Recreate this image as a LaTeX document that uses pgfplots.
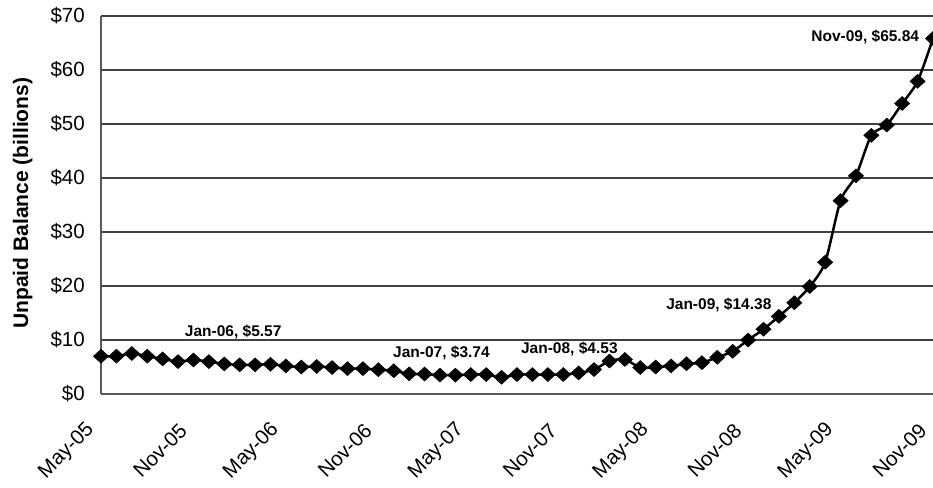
\documentclass[border=0pt]{standalone}
\usepackage{pgfplots}
\pgfplotsset{compat=1.18}
\usepackage{fontspec}
\setmainfont{Liberation Sans}

% Monthly unpaid balance, May 2005 (month 0) to Nov 2009 (month 54), $ billions

\begin{document}
\begin{tikzpicture}
\begin{axis}[
  at={(0,0)}, anchor=south west,
  scale only axis,
  width=832pt, height=378pt,
  xmin=0, xmax=54,
  ymin=0, ymax=70,
  clip=false,
  axis lines=left,
  axis line style={-, draw=black!65, line width=1.6pt},
  xtick={0,6,...,54},
  xticklabels={May-05,Nov-05,May-06,Nov-06,May-07,Nov-07,May-08,Nov-08,May-09,Nov-09},
  ytick={0,10,...,70},
  yticklabels={\$0,\$10,\$20,\$30,\$40,\$50,\$60,\$70},
  major tick length=0pt,
  ymajorgrids,
  major grid style={draw=black!75, line width=1.1pt},
  tick label style={font=\fontsize{20.5}{20.5}\selectfont},
  x tick label style={inner sep=0pt, xshift=-10pt, yshift=-33pt, rotate=45, anchor=east},
  y tick label style={inner sep=0pt, anchor=east, xshift=-16pt},
  ylabel={Unpaid Balance (billions)},
  y label style={at={(axis description cs:-0.094,0.505)}, anchor=center,
                 font=\fontsize{21}{21}\selectfont\bfseries},
  every axis plot/.append style={line width=2.5pt},
]
\addplot[black, smooth, tension=0.45, mark=diamond*,
         mark size=7pt, mark options={solid, xscale=1.45, line width=0.5pt, fill=black}]
  coordinates {
  (0,7.0) (1,7.0) (2,7.5) (3,7.0) (4,6.5) (5,6.0) (6,6.3) (7,6.0)
  (8,5.57) (9,5.4) (10,5.4) (11,5.5) (12,5.2) (13,5.0) (14,5.1) (15,4.9)
  (16,4.7) (17,4.7) (18,4.5) (19,4.3) (20,3.74) (21,3.7) (22,3.5) (23,3.5)
  (24,3.6) (25,3.6) (26,3.1) (27,3.6) (28,3.6) (29,3.6) (30,3.6) (31,3.9)
  (32,4.53) (33,6.1) (34,6.4) (35,4.9) (36,5.0) (37,5.2) (38,5.6) (39,5.8)
  (40,6.8) (41,7.9) (42,10.0) (43,12.0) (44,14.38) (45,16.9) (46,19.9) (47,24.4)
  (48,35.8) (49,40.4) (50,47.9) (51,49.8) (52,53.8) (53,57.9) (54,65.84)
  };
% value callouts
\begin{scope}[every node/.style={anchor=base, inner sep=0pt, font=\fontsize{15.5}{15.5}\selectfont\bfseries}]
\node at (axis cs:8.58,10.56) {Jan-06, \$5.57};
\node at (axis cs:22.1,6.67) {Jan-07, \$3.74};
\node at (axis cs:30.4,7.59) {Jan-08, \$4.53};
\node at (axis cs:40.1,15.56) {Jan-09, \$14.38};
\node at (axis cs:49.6,65.2) {Nov-09, \$65.84};
\end{scope}
\end{axis}
\pgfresetboundingbox
\path[use as bounding box] (-101pt,-93pt) rectangle (832pt,394pt);
\end{tikzpicture}
\end{document}
